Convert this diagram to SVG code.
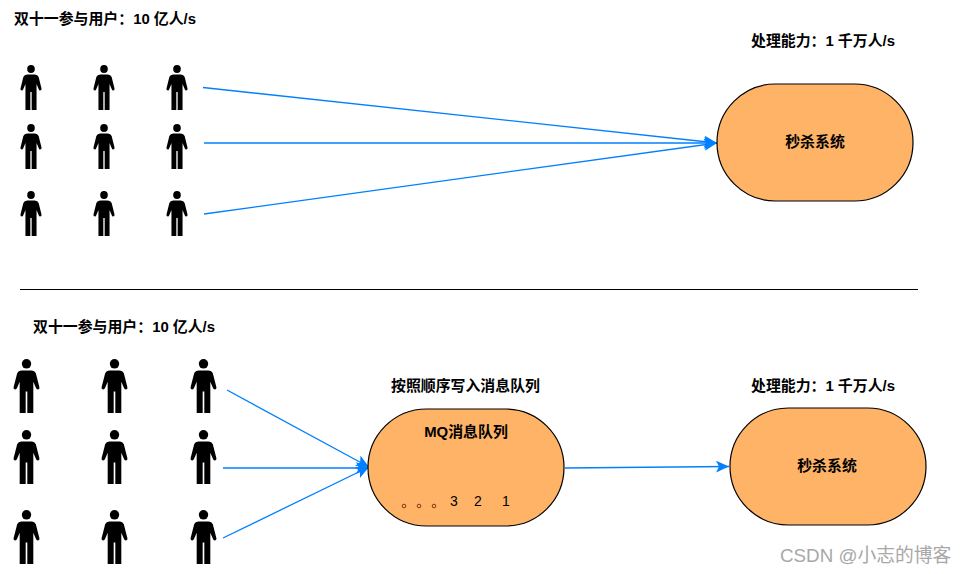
<svg xmlns="http://www.w3.org/2000/svg" width="966" height="574" viewBox="0 0 966 574">
<style>
text{font-family:"Liberation Sans","Noto Sans CJK SC",sans-serif;fill:#000}
.b{font-size:14.900px;font-weight:bold}
.c{text-anchor:middle}
.n{font-size:14px}
.pill{fill:#ffb366;stroke:#000;stroke-width:1.2}
.cn{fill:none;stroke:#007fff;stroke-width:1.3}
.dot{fill:none;stroke:#7a3b10;stroke-width:1}
.wm{font-size:18.800px;fill:#a8a8a8}
</style>
<defs>
<marker id="arrow" markerUnits="userSpaceOnUse" markerWidth="14" markerHeight="12" refX="13" refY="6" orient="auto">
<path d="M0,0 L13,6 L0,12 L3,6Z" fill="#007fff"/>
</marker>
<symbol id="person" viewBox="-0.5 0 23 45" preserveAspectRatio="none">
<circle cx="11" cy="4" r="4"/>
<path d="M7,9.500H15Q18,9.500 19,12L22,23.500Q22.300,25.500 20.500,25.500Q19.500,25.500 19,24L16.800,19V45H11.700V27H10.300V45H5.200V19L3,24Q2.500,25.500 1.500,25.500Q-.3,25.500 0,23.500L3,12Q4,9.500 7,9.500Z"/>
</symbol>
</defs>
<rect width="966" height="574" fill="#fff"/>
<g id="connectors">
<path class="cn" marker-end="url(#arrow)" d="M203,87.500L717,143"/>
<path class="cn" marker-end="url(#arrow)" d="M204,143H717"/>
<path class="cn" marker-end="url(#arrow)" d="M204,214L717,143"/>
<path class="cn" marker-end="url(#arrow)" d="M227,390L369,467"/>
<path class="cn" marker-end="url(#arrow)" d="M223,468H369"/>
<path class="cn" marker-end="url(#arrow)" d="M223,538L369,467"/>
<path class="cn" marker-end="url(#arrow)" d="M565,468L729,466.500"/>
</g>
<g id="divider"><path d="M20,289.500H918" stroke="#000" stroke-width="1" fill="none"/></g>
<g id="label-users-top"><text class="b" x="14" y="24">双十一参与用户：10 亿人/s</text></g>
<g id="label-capacity-top"><text class="b" x="751" y="46">处理能力：1 千万人/s</text></g>
<g id="label-users-bottom"><text class="b" x="33" y="332">双十一参与用户：10 亿人/s</text></g>
<g id="label-order"><text class="b" x="391" y="391">按照顺序写入消息队列</text></g>
<g id="label-capacity-bottom"><text class="b" x="751" y="391">处理能力：1 千万人/s</text></g>
<g id="people-top">
<use href="#person" x="20" y="65" width="22" height="45"/>
<use href="#person" x="93" y="65" width="22" height="45"/>
<use href="#person" x="166" y="65" width="22" height="45"/>
<use href="#person" x="20" y="124" width="22" height="45"/>
<use href="#person" x="93" y="124" width="22" height="45"/>
<use href="#person" x="166" y="124" width="22" height="45"/>
<use href="#person" x="20" y="191" width="22" height="45"/>
<use href="#person" x="93" y="191" width="22" height="45"/>
<use href="#person" x="166" y="191" width="22" height="45"/>
</g>
<g id="people-bottom">
<use href="#person" x="13" y="359" width="27" height="54"/>
<use href="#person" x="101" y="359" width="27" height="54"/>
<use href="#person" x="190" y="359" width="27" height="54"/>
<use href="#person" x="13" y="430" width="27" height="54"/>
<use href="#person" x="101" y="430" width="27" height="54"/>
<use href="#person" x="190" y="430" width="27" height="54"/>
<use href="#person" x="13" y="510" width="27" height="54"/>
<use href="#person" x="101" y="510" width="27" height="54"/>
<use href="#person" x="190" y="510" width="27" height="54"/>
</g>
<g id="seckill-top">
<rect class="pill" x="717" y="84" width="196" height="117" rx="58.500" ry="58.500"/>
<text class="b c" x="815" y="147">秒杀系统</text>
</g>
<g id="mq">
<rect class="pill" x="368" y="409" width="196" height="117" rx="58.500" ry="58.500"/>
<text class="b c" x="466" y="437">MQ消息队列</text>
<circle class="dot" cx="404" cy="506" r="1.800"/>
<circle class="dot" cx="419" cy="506" r="1.800"/>
<circle class="dot" cx="434" cy="506" r="1.800"/>
<text class="n c" x="454" y="506">3</text>
<text class="n c" x="478" y="506">2</text>
<text class="n c" x="506" y="506">1</text>
</g>
<g id="seckill-bottom">
<rect class="pill" x="730" y="408" width="196" height="117" rx="58.500" ry="58.500"/>
<text class="b c" x="827" y="471">秒杀系统</text>
</g>
<g id="watermark"><text class="wm" x="780" y="562">CSDN @小志的博客</text></g>
</svg>
